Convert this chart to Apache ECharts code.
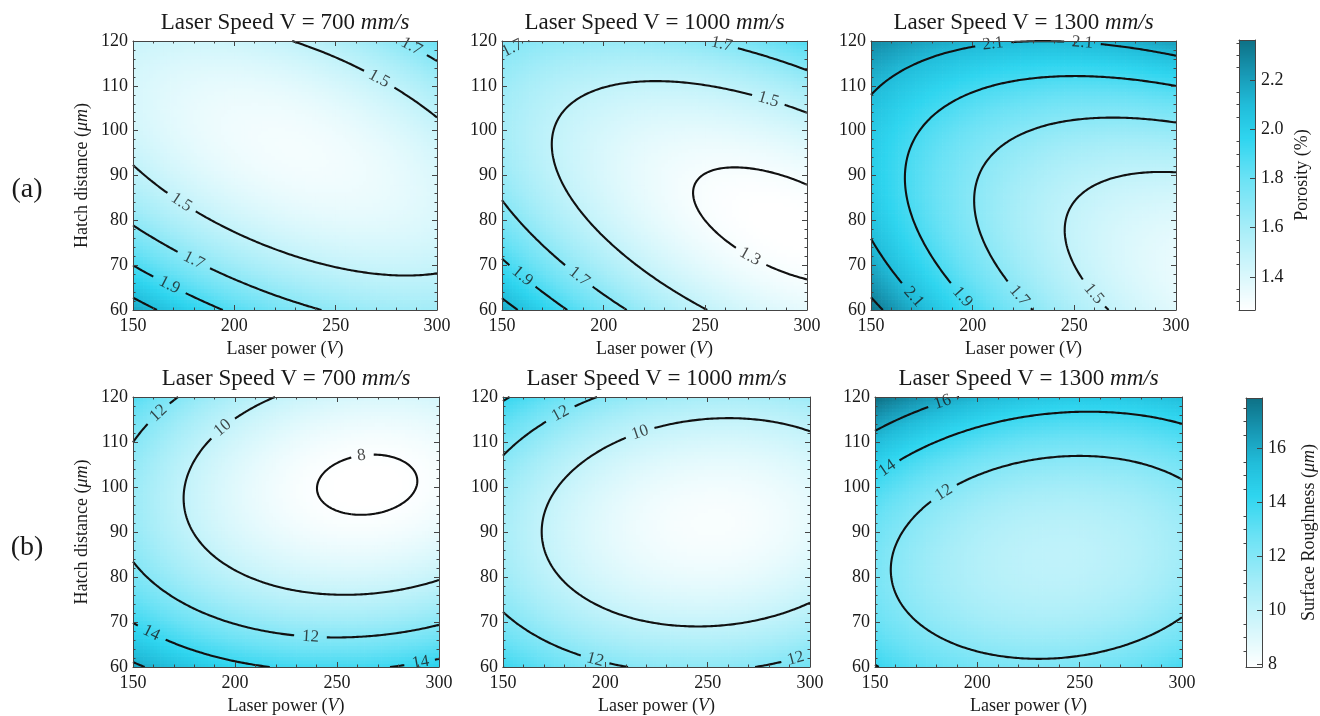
<!DOCTYPE html>
<html>
<head>
<meta charset="utf-8">
<script src="https://cdn.jsdelivr.net/npm/echarts@6/dist/echarts.min.js"></script>
<style>
  html, body { margin: 0; padding: 0; background: #ffffff; }
  #chart { width: 1320px; height: 716px; }
</style>
</head>
<body>
<div id="chart"></div>
<script>
// Response-surface values at the 3 x 3 design points.
// Rows: hatch distance 60, 90, 120 µm; columns: laser power 150, 225, 300 W.
const powerLevels = [150, 225, 300];
const hatchLevels = [60, 90, 120];
const speeds = [700, 1000, 1300];

const porosity700  = [[2.186, 1.760, 1.618], [1.526, 1.323, 1.405], [1.471, 1.492, 1.797]];
const porosity1000 = [[2.170, 1.622, 1.364], [1.650, 1.338, 1.316], [1.735, 1.659, 1.872]];
const porosity1300 = [[2.359, 1.729, 1.381], [2.014, 1.611, 1.490], [2.280, 2.103, 2.208]];

const roughness700  = [[16.29, 13.89, 14.54], [11.52, 8.57, 8.67], [13.35, 9.85, 9.40]];
const roughness1000 = [[14.02, 11.82, 12.64], [10.94, 8.34, 8.76], [14.19, 11.20, 11.23]];
const roughness1300 = [[14.08, 12.32, 13.73], [12.65, 10.32, 11.17], [17.97, 15.09, 15.37]];

// Contour levels, colour-bar ranges and colour-bar tick labels
const porosityLevels = [1.3, 1.5, 1.7, 1.9, 2.1, 2.3];
const roughnessLevels = [8, 10, 12, 14, 16];
const porosityRange = [1.266, 2.362];
const roughnessRange = [7.9, 17.87];
const porosityTicks = [1.4, 1.6, 1.8, 2.0, 2.2];
const roughnessTicks = [8, 10, 12, 14, 16];

// Inline contour labels: [level, power, hatch]
const porosityLabels700  = [[1.7, 287, 118.5], [1.5, 272, 112], [1.5, 174, 84.5], [1.7, 181, 71.5], [1.9, 169, 66]];
const porosityLabels1000 = [[1.7, 156, 118], [1.7, 258, 118.5], [1.5, 281, 107], [1.3, 272, 72], [1.7, 188.5, 67.5], [1.9, 160, 67.5]];
const porosityLabels1300 = [[2.1, 210, 119], [2.1, 254, 119], [2.1, 171, 63], [1.9, 195, 63], [1.7, 222, 63], [1.5, 258.5, 63]];
const roughnessLabels700  = [[12, 161.5, 117], [10, 193, 113.5], [8, 262, 107], [12, 237, 67.5], [14, 160, 68], [14, 291, 61.5]];
const roughnessLabels1000 = [[12, 178.5, 115.5], [10, 217.5, 112], [12, 195.5, 62], [12, 292, 63]];
const roughnessLabels1300 = [[16, 183, 119], [14, 156, 104], [12, 183, 99]];

// ---------------------------------------------------------------------------
const SERIF = '"Liberation Serif", "DejaVu Serif", serif';
const INK = '#1a1a1a';
const FRAME = '#444444';
const LABEL_SIZE = 17;

const P_MIN = 150, P_MAX = 300, H_MIN = 60, H_MAX = 120;

// colour map: white -> cyan -> dark teal
const cmapStops = [
  [0.00, [255, 255, 255]],
  [0.12, [220, 248, 252]],
  [0.31, [166, 237, 248]],
  [0.49, [107, 226, 245]],
  [0.64, [47, 213, 239]],
  [0.76, [34, 189, 218]],
  [0.88, [24, 152, 180]],
  [1.00, [15, 114, 135]]
];
function colorAt(t) {
  t = Math.max(0, Math.min(1, t));
  for (let k = 1; k < cmapStops.length; k++) {
    if (t <= cmapStops[k][0]) {
      const [t0, c0] = cmapStops[k - 1], [t1, c1] = cmapStops[k];
      const f = (t - t0) / (t1 - t0);
      return 'rgb(' + c0.map((c, i) => Math.round(c + f * (c1[i] - c))).join(',') + ')';
    }
  }
  return 'rgb(15,114,135)';
}

// quadratic (Lagrange) surface through the 3 x 3 design points
function surface(nodes, p, h) {
  const u = (p - powerLevels[1]) / (powerLevels[2] - powerLevels[1]);
  const v = (h - hatchLevels[1]) / (hatchLevels[2] - hatchLevels[1]);
  const lu = [u * (u - 1) / 2, 1 - u * u, u * (u + 1) / 2];
  const lv = [v * (v - 1) / 2, 1 - v * v, v * (v + 1) / 2];
  let s = 0;
  for (let j = 0; j < 3; j++) for (let i = 0; i < 3; i++) s += nodes[j][i] * lu[i] * lv[j];
  return s;
}

function sampleField(nodes, nx, ny) {
  const xs = [], ys = [], vals = [];
  for (let i = 0; i < nx; i++) xs.push(P_MIN + (P_MAX - P_MIN) * i / (nx - 1));
  for (let j = 0; j < ny; j++) ys.push(H_MIN + (H_MAX - H_MIN) * j / (ny - 1));
  for (let j = 0; j < ny; j++) {
    const row = [];
    for (let i = 0; i < nx; i++) row.push(surface(nodes, xs[i], ys[j]));
    vals.push(row);
  }
  return { xs, ys, vals };
}

// marching squares, joined into polylines
function traceContours(field, level) {
  const { xs, ys, vals } = field;
  const nx = xs.length, ny = ys.length;
  const pts = {}, adj = {};
  function edge(key, x1, y1, a, x2, y2, b) {
    if (!pts[key]) {
      const t = (level - a) / (b - a);
      pts[key] = [x1 + t * (x2 - x1), y1 + t * (y2 - y1)];
    }
    return key;
  }
  function link(k1, k2) {
    (adj[k1] = adj[k1] || []).push(k2);
    (adj[k2] = adj[k2] || []).push(k1);
  }
  for (let j = 0; j < ny - 1; j++) {
    for (let i = 0; i < nx - 1; i++) {
      const a = vals[j][i], b = vals[j][i + 1], c = vals[j + 1][i + 1], d = vals[j + 1][i];
      const A = a >= level, B = b >= level, C = c >= level, D = d >= level;
      const bottom = A !== B ? edge('h' + i + '_' + j, xs[i], ys[j], a, xs[i + 1], ys[j], b) : null;
      const right = B !== C ? edge('v' + (i + 1) + '_' + j, xs[i + 1], ys[j], b, xs[i + 1], ys[j + 1], c) : null;
      const top = D !== C ? edge('h' + i + '_' + (j + 1), xs[i], ys[j + 1], d, xs[i + 1], ys[j + 1], c) : null;
      const left = A !== D ? edge('v' + i + '_' + j, xs[i], ys[j], a, xs[i], ys[j + 1], d) : null;
      const list = [bottom, right, top, left].filter(k => k);
      if (list.length === 2) link(list[0], list[1]);
      else if (list.length === 4) {
        const centre = (a + b + c + d) / 4 >= level;
        if (centre === A) { link(bottom, right); link(top, left); }
        else { link(bottom, left); link(top, right); }
      }
    }
  }
  const used = {}, lines = [];
  const walk = start => {
    const line = [start];
    used[start] = true;
    let cur = start;
    for (;;) {
      const next = adj[cur].find(k => !used[k]);
      if (!next) break;
      used[next] = true;
      line.push(next);
      cur = next;
    }
    if (line.length > 2 && adj[cur].includes(start)) line.push(start);
    return line.map(k => pts[k]);
  };
  const keys = Object.keys(adj);
  keys.forEach(k => { if (!used[k] && adj[k].length === 1) lines.push(walk(k)); });
  keys.forEach(k => { if (!used[k]) lines.push(walk(k)); });
  return lines;
}

const measureCtx = document.createElement('canvas').getContext('2d');
function textWidth(str, size) {
  measureCtx.font = size + 'px "Liberation Serif"';
  return measureCtx.measureText(str).width;
}

// contour pieces with gaps for inline labels
function buildContours(nodes, levels, anchors, grid) {
  const sx = grid.width / (P_MAX - P_MIN), sy = grid.height / (H_MAX - H_MIN);
  const field = sampleField(nodes, 151, 151);
  const pieces = [], labels = [];
  const pd = (p, q) => Math.hypot((p[0] - q[0]) * sx, (p[1] - q[1]) * sy);
  levels.forEach(level => {
    const lines = traceContours(field, level);
    const cuts = lines.map(l => l.map(() => false));
    anchors.filter(a => Math.abs(a[0] - level) < 1e-9).forEach(a => {
      let best = null, bestD = Infinity;
      lines.forEach((l, k) => l.forEach((pt, m) => {
        const dd = pd(pt, [a[1], a[2]]);
        if (dd < bestD) { bestD = dd; best = [k, m]; }
      }));
      if (!best) return;
      const [k, m] = best, l = lines[k], c = l[m];
      const p1 = l[Math.max(0, m - 4)], p2 = l[Math.min(l.length - 1, m + 4)];
      let deg = Math.atan2((p2[1] - p1[1]) * sy, (p2[0] - p1[0]) * sx) * 180 / Math.PI;
      if (deg > 90) deg -= 180;
      if (deg < -90) deg += 180;
      const text = String(level);
      const r = textWidth(text, LABEL_SIZE) / 2 + 6;
      for (let q = m; q >= 0 && pd(l[q], c) < r; q--) cuts[k][q] = true;
      for (let q = m; q < l.length && pd(l[q], c) < r; q++) cuts[k][q] = true;
      labels.push({ value: [c[0], c[1]], label: { formatter: text, rotate: deg } });
    });
    lines.forEach((l, k) => {
      let cur = [];
      l.forEach((pt, m) => {
        if (cuts[k][m]) { if (cur.length > 1) pieces.push(cur); cur = []; }
        else cur.push(pt);
      });
      if (cur.length > 1) pieces.push(cur);
    });
  });
  return { pieces, labels };
}

// ---------------------------------------------------------------------------
const panels = [
  { grid: { left: 133, top: 41, width: 304, height: 269 }, nodes: porosity700,  speed: speeds[0], levels: porosityLevels, range: porosityRange, labels: porosityLabels700, yName: true },
  { grid: { left: 502, top: 41, width: 305, height: 269 }, nodes: porosity1000, speed: speeds[1], levels: porosityLevels, range: porosityRange, labels: porosityLabels1000 },
  { grid: { left: 871, top: 41, width: 305, height: 269 }, nodes: porosity1300, speed: speeds[2], levels: porosityLevels, range: porosityRange, labels: porosityLabels1300 },
  { grid: { left: 133, top: 397, width: 306, height: 270 }, nodes: roughness700,  speed: speeds[0], levels: roughnessLevels, range: roughnessRange, labels: roughnessLabels700, yName: true },
  { grid: { left: 503, top: 397, width: 307, height: 270 }, nodes: roughness1000, speed: speeds[1], levels: roughnessLevels, range: roughnessRange, labels: roughnessLabels1000 },
  { grid: { left: 875, top: 397, width: 307, height: 270 }, nodes: roughness1300, speed: speeds[2], levels: roughnessLevels, range: roughnessRange, labels: roughnessLabels1300 }
];

const colorbars = [
  { grid: { left: 1239, top: 40, width: 16, height: 270 }, range: porosityRange, ticks: porosityTicks, minorStep: 0.05, name: 'Porosity (%)', fmt: v => v.toFixed(1) },
  { grid: { left: 1246, top: 398, width: 16, height: 269 }, range: roughnessRange, ticks: roughnessTicks, minorStep: 0.5, name: 'Surface Roughness ({i|μm})', fmt: v => String(v) }
];

const textBase = { fontFamily: SERIF, color: INK };
const richItalic = size => ({ i: { fontFamily: SERIF, fontSize: size, fontStyle: 'italic', color: INK } });

const grids = [], xAxes = [], yAxes = [], series = [], graphics = [];

const lineStyle = { color: FRAME, width: 1 };

panels.forEach((pn, g) => {
  grids.push(pn.grid);
  const xCommon = {
    gridIndex: g, type: 'value', min: P_MIN, max: P_MAX, interval: 50, z: 10,
    axisLine: { show: true, onZero: false, lineStyle },
    axisTick: { show: true, inside: true, length: 5, lineStyle },
    minorTick: { show: true, splitNumber: 5, length: 2.5, lineStyle },
    splitLine: { show: false }
  };
  xAxes.push(Object.assign({}, xCommon, {
    position: 'bottom',
    axisLabel: Object.assign({ fontSize: 18, margin: 7 }, textBase),
    name: 'Laser power ({i|V})', nameLocation: 'middle', nameGap: 30,
    nameTextStyle: Object.assign({ fontSize: 18, rich: richItalic(18) }, textBase)
  }));
  xAxes.push(Object.assign({}, xCommon, { position: 'top', axisLabel: { show: false } }));

  const yCommon = {
    gridIndex: g, type: 'value', min: H_MIN, max: H_MAX, interval: 10, z: 10,
    axisLine: { show: true, onZero: false, lineStyle },
    axisTick: { show: true, inside: true, length: 5, lineStyle },
    minorTick: { show: true, splitNumber: 5, length: 2.5, lineStyle },
    splitLine: { show: false }
  };
  const yLeft = Object.assign({}, yCommon, {
    position: 'left',
    axisLabel: Object.assign({ fontSize: 18, margin: 5 }, textBase)
  });
  if (pn.yName) {
    Object.assign(yLeft, {
      name: 'Hatch distance ({i|μm})', nameLocation: 'middle', nameGap: 42, nameRotate: 90,
      nameTextStyle: Object.assign({ fontSize: 18, rich: richItalic(18) }, textBase)
    });
  }
  yAxes.push(yLeft);
  yAxes.push(Object.assign({}, yCommon, { position: 'right', axisLabel: { show: false } }));

  // colour field
  const nx = 90, ny = 75;
  const dx = (P_MAX - P_MIN) / nx, dy = (H_MAX - H_MIN) / ny;
  const cells = [];
  for (let j = 0; j < ny; j++) {
    for (let i = 0; i < nx; i++) {
      const p = P_MIN + (i + 0.5) * dx, h = H_MIN + (j + 0.5) * dy;
      cells.push([p, h, surface(pn.nodes, p, h)]);
    }
  }
  const range = pn.range;
  series.push({
    type: 'custom', xAxisIndex: 2 * g, yAxisIndex: 2 * g, data: cells, silent: true, z: 1,
    animation: false, clip: true, progressive: 0,
    renderItem: (params, api) => {
      const p = api.value(0), h = api.value(1), v = api.value(2);
      const a = api.coord([p - dx / 2, h + dy / 2]);
      const b = api.coord([p + dx / 2, h - dy / 2]);
      return {
        type: 'rect',
        shape: { x: a[0], y: a[1], width: b[0] - a[0] + 0.7, height: b[1] - a[1] + 0.7 },
        style: { fill: colorAt((v - range[0]) / (range[1] - range[0])) }
      };
    }
  });

  // contour lines and their labels
  const cont = buildContours(pn.nodes, pn.levels, pn.labels, pn.grid);
  series.push({
    type: 'lines', coordinateSystem: 'cartesian2d', xAxisIndex: 2 * g, yAxisIndex: 2 * g,
    polyline: true, silent: true, z: 5, animation: false,
    data: cont.pieces.map(c => ({ coords: c })),
    lineStyle: { color: '#111111', width: 2.1, opacity: 1 }
  });
  series.push({
    type: 'scatter', xAxisIndex: 2 * g, yAxisIndex: 2 * g, silent: true, z: 6, animation: false,
    symbolSize: 0.1, itemStyle: { color: 'rgba(0,0,0,0)' },
    data: cont.labels,
    label: { show: true, position: 'inside', fontFamily: SERIF, fontSize: LABEL_SIZE, color: INK }
  });

  // panel title
  graphics.push({
    type: 'text', x: pn.grid.left + pn.grid.width / 2, y: pn.grid.top - 18, z: 20,
    style: {
      text: 'Laser Speed V = ' + pn.speed + ' {i|mm/s}',
      fontFamily: SERIF, fontSize: 23, fill: INK, align: 'center', verticalAlign: 'middle',
      rich: { i: { fontFamily: SERIF, fontSize: 23, fontStyle: 'italic', fill: INK } }
    }
  });
});

colorbars.forEach((cb, c) => {
  const g = panels.length + c;
  grids.push(cb.grid);
  const xBase = {
    gridIndex: g, type: 'value', min: 0, max: 1, z: 10,
    axisLine: { show: true, onZero: false, lineStyle },
    axisTick: { show: false }, axisLabel: { show: false }, splitLine: { show: false }
  };
  const xi = xAxes.length;
  xAxes.push(Object.assign({}, xBase, { position: 'bottom' }));
  xAxes.push(Object.assign({}, xBase, { position: 'top' }));

  const minors = [];
  const m0 = Math.ceil(cb.range[0] / cb.minorStep - 1e-9);
  for (let k = m0; k * cb.minorStep <= cb.range[1] + 1e-9; k++) {
    const v = +(k * cb.minorStep).toFixed(4);
    if (!cb.ticks.some(t => Math.abs(t - v) < 1e-6)) minors.push(v);
  }
  const yi = yAxes.length;
  yAxes.push({
    gridIndex: g, type: 'value', min: cb.range[0], max: cb.range[1], position: 'right', z: 10,
    axisLine: { show: true, onZero: false, lineStyle },
    axisTick: { show: true, inside: true, length: 5, lineStyle, customValues: cb.ticks },
    axisLabel: Object.assign({ fontSize: 18, margin: 6, customValues: cb.ticks, formatter: cb.fmt }, textBase),
    splitLine: { show: false },
    name: cb.name, nameLocation: 'middle', nameGap: 38, nameRotate: 90,
    nameTextStyle: Object.assign({ fontSize: 18, rich: richItalic(18) }, textBase)
  });
  yAxes.push({
    gridIndex: g, type: 'value', min: cb.range[0], max: cb.range[1], position: 'right', z: 10,
    axisLine: { show: false },
    axisTick: { show: true, inside: true, length: 2.5, lineStyle, customValues: minors },
    axisLabel: { show: false }, splitLine: { show: false }
  });
  yAxes.push({
    gridIndex: g, type: 'value', min: cb.range[0], max: cb.range[1], position: 'left', z: 10,
    axisLine: { show: true, onZero: false, lineStyle },
    axisTick: { show: false }, axisLabel: { show: false }, splitLine: { show: false }
  });

  const nb = 270, step = (cb.range[1] - cb.range[0]) / nb;
  const strip = [];
  for (let k = 0; k < nb; k++) strip.push([0.5, cb.range[0] + (k + 0.5) * step]);
  const range = cb.range;
  series.push({
    type: 'custom', xAxisIndex: xi, yAxisIndex: yi, data: strip, silent: true, z: 1,
    animation: false, clip: true,
    renderItem: (params, api) => {
      const v = api.value(1);
      const a = api.coord([0, v + step / 2]);
      const b = api.coord([1, v - step / 2]);
      return {
        type: 'rect',
        shape: { x: a[0], y: a[1], width: b[0] - a[0], height: b[1] - a[1] + 0.7 },
        style: { fill: colorAt((v - range[0]) / (range[1] - range[0])) }
      };
    }
  });
});

// row tags
graphics.push({ type: 'text', x: 27, y: 190, z: 20, style: { text: '(a)', fontFamily: SERIF, fontSize: 28, fill: INK, align: 'center', verticalAlign: 'middle' } });
graphics.push({ type: 'text', x: 27, y: 548, z: 20, style: { text: '(b)', fontFamily: SERIF, fontSize: 28, fill: INK, align: 'center', verticalAlign: 'middle' } });

const chart = echarts.init(document.getElementById('chart'), null, { renderer: 'canvas', width: 1320, height: 716 });
chart.setOption({
  animation: false,
  backgroundColor: '#ffffff',
  grid: grids,
  xAxis: xAxes,
  yAxis: yAxes,
  series: series,
  graphic: graphics
});
</script>
</body>
</html>
